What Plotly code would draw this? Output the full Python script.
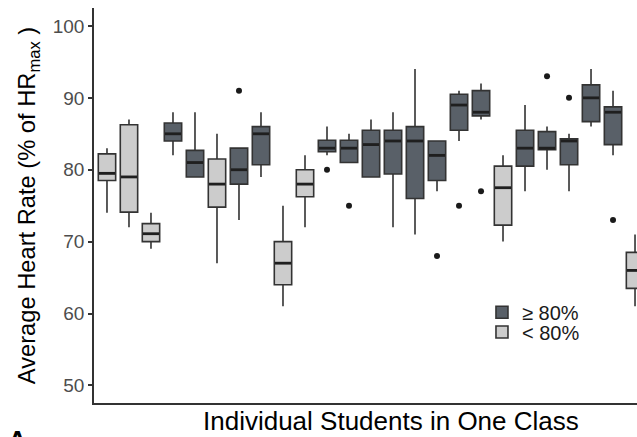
import plotly.graph_objects as go

students = list(range(1, 26))
groups = ["lo", "lo", "lo", "hi", "hi", "lo", "hi", "hi", "lo", "lo",
          "hi", "hi", "hi", "hi", "hi", "hi", "hi", "hi", "lo", "hi",
          "hi", "hi", "hi", "hi", "lo"]
lower = [74, 72, 69, 82, 79, 67, 73, 79, 61, 72, 82, 81, 79, 72, 71, 77, 84, 87, 70, 77, 80, 77, 86, 82, 61]
q1 = [78.5, 74.1, 70, 84, 79, 74.8, 78, 80.7, 64, 76.25, 82.5, 81, 79, 79.4, 76, 78.5, 85.5, 87.5, 72.3, 80.5, 82.8, 80.7, 86.7, 83.5, 63.5]
median = [79.5, 79, 71.1, 85, 81, 78, 80, 85, 67, 78, 83, 83, 83.5, 84, 84, 82, 89, 88, 77.5, 83, 83, 84, 90, 88, 66]
q3 = [82.2, 86.25, 72.5, 86.5, 82.7, 81.5, 83, 86, 70, 80, 84.1, 84.1, 85.5, 85.5, 86, 84, 90.5, 91, 80.5, 85.5, 85.3, 84.3, 91.8, 88.75, 68.5]
upper = [83, 87, 74, 88, 88, 85, 83, 88, 75, 82, 86, 85, 87, 88, 94, 84, 91, 92, 82, 89, 86, 85, 94, 91, 71]
outlier_student = [7, 11, 12, 16, 17, 18, 21, 22, 24]
outlier_value = [91, 80, 75, 68, 75, 77, 93, 90, 73]
yticks = [50, 60, 70, 80, 90, 100]

BOX_W = 0.79
series = [("hi", "≥ 80%", "#596068", "legend", 0.279),
          ("lo", "< 80%", "#cccccc", "legend2", 0.229)]

fig = go.Figure()
for key, name, color, leg, _ in series:
    idx = [i for i, g in enumerate(groups) if g == key]
    fig.add_trace(go.Box(
        x=[students[i] for i in idx],
        q1=[q1[i] for i in idx],
        median=[median[i] for i in idx],
        q3=[q3[i] for i in idx],
        lowerfence=[lower[i] for i in idx],
        upperfence=[upper[i] for i in idx],
        name=name,
        legend=leg,
        fillcolor=color,
        line=dict(color="#333333", width=1.6),
        whiskerwidth=0,
        width=BOX_W,
        boxpoints=False,
        hoverinfo="skip",
    ))

# thicker median bars (as in ggplot)
mx, my = [], []
for s, m in zip(students, median):
    mx += [s - BOX_W / 2 + 0.03, s + BOX_W / 2 - 0.03, None]
    my += [m, m, None]
fig.add_trace(go.Scatter(x=mx, y=my, mode="lines",
                         line=dict(color="#1f1f1f", width=2.8),
                         showlegend=False, hoverinfo="skip"))

fig.add_trace(go.Scatter(
    x=outlier_student, y=outlier_value, mode="markers",
    marker=dict(color="#1a1a1a", size=6),
    showlegend=False,
))

# x-axis title (centred on the full panel, which extends past the crop)
fig.add_annotation(
    text="Individual Students in One Class", xref="paper", yref="paper",
    x=0.547, y=-0.046, xanchor="center", yanchor="middle", showarrow=False,
    font=dict(family="Liberation Sans", size=26, color="black"),
)

fig.add_annotation(
    text="<b>A</b>", xref="paper", yref="paper", x=-0.162, y=-0.05,
    xanchor="left", yanchor="top", showarrow=False,
    font=dict(family="Liberation Sans", size=26, color="black"),
)

legend_style = dict(xanchor="left", yanchor="top", bgcolor="rgba(0,0,0,0)",
                    font=dict(size=20, color="#1a1a1a"), itemwidth=30)

fig.update_layout(
    width=637, height=437,
    margin=dict(l=94, r=0, t=8, b=34),
    paper_bgcolor="white", plot_bgcolor="white",
    font=dict(family="Liberation Sans", size=19, color="#4d4d4d"),
    boxmode="overlay",
    legend=dict(x=0.7145, y=series[0][4], **legend_style),
    legend2=dict(x=0.7145, y=series[1][4], **legend_style),
    xaxis=dict(range=[0.41, 25.09], showticklabels=False, ticks="",
               showgrid=False, zeroline=False, showline=True,
               linecolor="#333333", linewidth=1.5),
    yaxis=dict(range=[47.55, 102.5], tickvals=yticks, ticks="outside",
               ticklen=4, tickcolor="#333333", tickwidth=1.5,
               showgrid=False, zeroline=False, showline=True,
               linecolor="#333333", linewidth=1.5,
               title=dict(text="Average Heart Rate (% of HR<sub>max</sub> )",
                          font=dict(size=23.7, color="black"), standoff=10)),
)

fig.write_html("out.html")
